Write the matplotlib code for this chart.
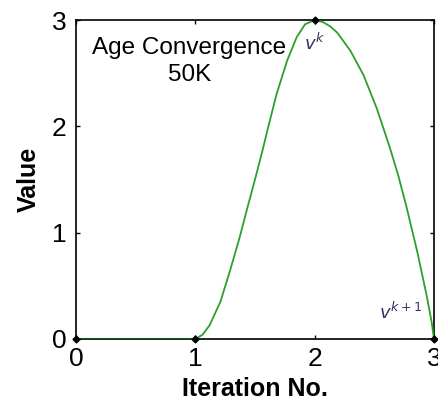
import matplotlib
matplotlib.use("Agg")
import matplotlib.pyplot as plt

# Value trajectory over iterations
iter_x = [0.0, 0.5, 1.0, 1.06, 1.12, 1.21, 1.29, 1.37, 1.44, 1.50, 1.56, 1.61,
          1.68, 1.77, 1.85, 1.92, 2.0, 2.07, 2.13, 2.19, 2.30, 2.41, 2.52,
          2.63, 2.70, 2.77, 2.86, 2.94, 2.98, 3.0]
value_y = [0.0, 0.0, 0.0, 0.04, 0.13, 0.35, 0.64, 0.95, 1.25, 1.50, 1.76, 1.99,
           2.30, 2.62, 2.84, 2.96, 3.0, 2.98, 2.94, 2.88, 2.71, 2.48, 2.17,
           1.80, 1.54, 1.24, 0.82, 0.40, 0.16, 0.0]

# Iterates marked on the curve
iterate_x = [0, 1, 2, 3]
iterate_y = [0, 0, 3, 0]

xticks = [0, 1, 2, 3]
yticks = [0, 1, 2, 3]

sans = ["Liberation Sans", "DejaVu Sans"]

fig = plt.figure(figsize=(4.39, 4.12), dpi=100)
ax = fig.add_axes([76 / 439, 1 - 339 / 412, (434 - 76) / 439, (339 - 20) / 412])

ax.plot(iter_x, value_y, color="#2ca02c", lw=1.3, zorder=3,
        solid_joinstyle="round")
ax.plot(iterate_x[:2], iterate_y[:2], color="#006400", lw=2.2, zorder=3)
ax.plot(iterate_x, iterate_y, ls="none", marker="D", ms=3.5, color="black",
        clip_on=False, zorder=4)

ax.set_xlim(0, 3)
ax.set_ylim(0, 3)
ax.set_xticks(xticks)
ax.set_yticks(yticks)

num_font = dict(family=sans, size=19)
ax.set_xticklabels([str(t) for t in xticks], fontdict=num_font)
ax.set_yticklabels([str(t) for t in yticks], fontdict=num_font)
ax.tick_params(direction="in", length=3, width=1, top=True, right=True,
               colors="black")
ax.tick_params(axis="x", pad=6)
ax.tick_params(axis="y", pad=7)
for s in ax.spines.values():
    s.set_linewidth(1.2)

ax.set_xlabel("Iteration No.", fontsize=18, fontweight="bold",
              family=sans, labelpad=4)
ax.set_ylabel("Value", fontsize=18, fontweight="bold",
              family=sans, labelpad=8)

ax.text(0.95, 2.61, "Age Convergence\n50K", fontsize=17.5, ha="center",
        va="center", family=sans, linespacing=1.3, multialignment="center")

ax.text(2.0, 2.78, r"$v^k$", fontsize=13, color="#333366", ha="center",
        va="center", family="serif")
ax.text(2.72, 0.25, r"$v^{k+1}$", fontsize=13, color="#333366", ha="center",
        va="center", family="serif")

fig.savefig("out.png", dpi=100)
